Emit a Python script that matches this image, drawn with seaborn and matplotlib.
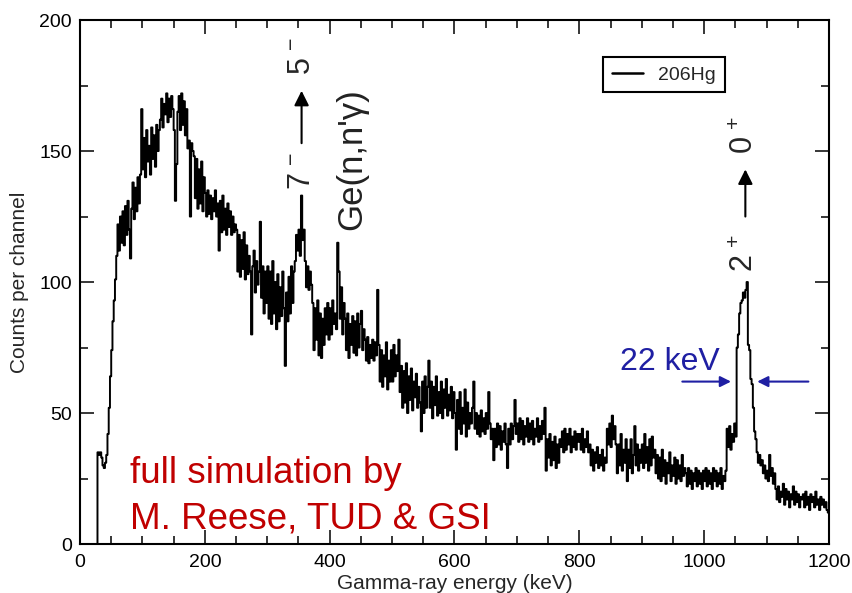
import numpy as np
import pandas as pd
import matplotlib
matplotlib.use("Agg")
import matplotlib.pyplot as plt
from matplotlib.ticker import MultipleLocator
import seaborn as sns

# Simulated 206Hg gamma-ray spectrum, 2 keV channels from 0 to 1200 keV
bin_width = 2
counts_0_100 = [0, 0, 0, 0, 0, 0, 0, 0, 0, 0, 0, 0, 0, 0,
                35, 34, 35, 33, 30, 29, 31, 34, 42, 52, 64, 74, 85, 93, 101, 110, 122, 112,
                125, 115, 127, 114, 129, 118, 131, 120, 109, 128, 138, 124, 136, 127, 140, 130, 141, 166]
counts_100_200 = [143, 155, 140, 158, 146, 152, 141, 159, 147, 156, 144, 160, 150, 158,
                  162, 170, 159, 168, 164, 172, 161, 170, 163, 171, 166, 158, 131, 145,
                  165, 171, 158, 172, 160, 169, 156, 166, 151, 154, 125, 153, 150,
                  148, 132, 147, 128, 143, 130, 146, 127, 140]
counts_200_300 = [134, 125, 135, 126, 133, 124, 132, 127, 135, 125, 130, 112,
                  131, 119, 133, 120, 128, 118, 130, 121, 127, 118, 125, 119, 122,
                  120, 104, 118, 102, 116, 105, 119, 101, 114, 103, 110, 104, 80, 106,
                  112, 96, 108, 99, 104, 123, 94, 106, 88, 104, 92]
counts_300_400 = [106, 86, 104, 84, 108, 88, 100, 82, 103, 85, 98, 87, 104, 90, 68, 96, 85, 102, 88, 106, 92, 104,
                  108, 118, 112, 120, 110, 133, 116, 120,
                  108, 98, 106, 97, 104, 99,
                  92, 74, 90, 78, 93, 72, 88, 71, 86, 76, 90, 80, 92, 78]
counts_400_500 = [90, 80, 93, 84, 88, 82, 115, 104, 86, 98, 80, 92,
                  86, 74, 88, 71, 84, 76, 87, 73, 85, 72, 88, 75, 84, 89, 74, 82,
                  78, 70, 79, 69, 76, 71, 78, 70, 77, 72, 97,
                  76, 62, 74, 60, 72, 64, 77, 59, 70, 62, 74]
counts_500_600 = [62, 76, 64, 72, 66, 78,
                  58, 68, 52, 66, 54, 69, 50, 64, 55, 67, 51, 62, 56, 65, 52, 60, 54, 43,
                  62, 50, 64, 52, 60, 70,
                  52, 62, 48, 60, 53, 64, 49, 58, 50, 62, 48, 59, 52, 63, 49, 57, 51, 60, 48, 58]
counts_600_700 = [50, 36, 55, 44, 58, 42, 52, 46, 59, 41, 54, 44, 50, 46, 52, 62,
                  44, 50, 42, 49, 41, 51, 43, 48, 42, 50, 44, 58, 46, 40, 44, 32,
                  44, 37, 46, 38, 45, 36, 43, 39, 46, 38, 29, 44, 38, 46, 40, 45, 55, 42]
counts_700_800 = [46, 39, 48, 40, 47, 38, 45, 41, 48, 39, 46, 40, 47, 38, 44, 41, 48, 39, 45, 40, 47, 42, 52,
                  28, 40, 33, 42, 30, 39, 32, 41, 29, 38, 31, 40,
                  37, 43, 35, 44, 36, 42, 38, 44, 35, 41, 37, 43, 36, 42, 39]
counts_800_900 = [42, 36, 44, 35, 40, 37, 43, 35, 38,
                  30, 36, 28, 35, 31, 37, 29, 34, 30, 36, 28, 33, 31,
                  44, 38, 46, 37, 49, 40, 45, 38, 27,
                  38, 30, 42, 28, 36, 31, 40, 24, 36, 29, 40, 27, 34, 45, 30, 38, 28, 36, 31]
counts_900_1000 = [38, 29, 42, 31, 37, 28, 40, 30, 41, 33, 36,
                   27, 34, 25, 33, 24, 36, 26, 32, 23, 31, 27, 35, 24, 30, 26, 33, 23, 32, 25, 30, 24, 34, 26, 29,
                   27, 22, 29, 23, 28, 21, 27, 24, 29, 22, 28, 23, 27, 21, 28]
counts_1000_1100 = [24, 29, 22, 28, 23, 27, 21, 29, 24, 28, 22, 27, 23, 29, 21, 26, 24, 28,
                    44, 37, 45, 36, 42, 39, 46, 41,
                    75, 80, 88, 92, 93, 96, 94, 97, 100, 76, 74, 63, 61, 52, 43, 40,
                    35, 31, 34, 30, 32, 27, 30, 25]
counts_1100_1200 = [28, 24, 34, 26, 29, 23, 27,
                    21, 17, 22, 16, 20, 18, 23, 15, 21, 17, 20, 14, 19, 17, 22, 15, 20, 16, 19, 14, 18,
                    17, 19, 14, 20, 15, 18, 13, 19, 16, 18, 14, 20, 15, 17, 13, 18, 15, 17, 14, 16, 13, 12]

counts = (counts_0_100 + counts_100_200 + counts_200_300 + counts_300_400
          + counts_400_500 + counts_500_600 + counts_600_700 + counts_700_800
          + counts_800_900 + counts_900_1000 + counts_1000_1100 + counts_1100_1200)
edges = np.arange(0, 1200 + bin_width, bin_width)
spectrum = pd.DataFrame({"energy": edges[:-1] + bin_width / 2, "counts": counts})

# Transition labels (peak energies in keV)
line_7_5 = 355
line_ge = 436
line_2_0 = 1066
fwhm_left, fwhm_right = 1043, 1085

sns.set_style("ticks")
plt.rcParams["font.family"] = ["Liberation Sans", "DejaVu Sans"]
plt.rcParams["mathtext.fontset"] = "custom"
plt.rcParams["mathtext.rm"] = "Liberation Sans"
plt.rcParams["mathtext.default"] = "rm"

fig = plt.figure(figsize=(8.52, 5.93), dpi=100)
ax = fig.add_axes([0.0939, 0.0826, 0.8791, 0.8836])

sns.histplot(data=spectrum, x="energy", weights="counts", bins=list(edges),
             element="step", fill=False, color="black", linewidth=1.4,
             label="206Hg", ax=ax)

ax.set_xlim(0, 1200)
ax.set_ylim(0, 200)
ax.set_xticks(range(0, 1201, 200))
ax.set_yticks(range(0, 201, 50))
ax.xaxis.set_minor_locator(MultipleLocator(50))
ax.yaxis.set_minor_locator(MultipleLocator(25))
ax.tick_params(which="both", direction="in", top=True, right=True, width=1.1, colors="black")
ax.tick_params(which="major", length=10)
ax.tick_params(which="minor", length=5.5)
ax.tick_params(axis="x", pad=7, labelsize=14)
ax.tick_params(axis="y", pad=6, labelsize=14)
for s in ax.spines.values():
    s.set_linewidth(1.5)
    s.set_color("black")

ax.set_xlabel("Gamma-ray energy (keV)", fontsize=15, labelpad=2)
ax.set_ylabel("Counts per channel", fontsize=15, labelpad=7)

leg = ax.legend(loc="upper left", bbox_to_anchor=(0.698, 0.929), frameon=True,
                fancybox=False, edgecolor="black", framealpha=1, fontsize=14,
                handlelength=1.6, borderpad=0.45, handletextpad=0.8,
                borderaxespad=0)
leg.get_frame().set_linewidth(1.5)
for h in leg.get_lines():
    h.set_linewidth(1.8)

# Level transitions, written vertically with an upward arrow
def transition(x, lower, upper, y0, y1, y2, y3):
    ax.text(x, y0, lower, rotation=90, ha="center", va="bottom", fontsize=22)
    ax.annotate("", xy=(x, y2), xytext=(x, y1),
                arrowprops=dict(arrowstyle="-|>", color="black", lw=1.5,
                                mutation_scale=22, shrinkA=0, shrinkB=0))
    ax.text(x, y3, upper, rotation=90, ha="center", va="bottom", fontsize=22)

transition(line_7_5, r"7$^{\,-}$", r"5$^{\,-}$", 135, 153, 173, 179)
transition(line_2_0, r"2$^{\,+}$", r"0$^{\,+}$", 104, 125, 143, 149)

ax.text(line_ge, 120, "Ge(n,n'γ)", rotation=90, ha="center", va="bottom",
        fontsize=25, color="#222222")

# FWHM of the 2+ -> 0+ line
blue = "#1f1fa3"
ax.text(865, 66.4, "22 keV", color=blue, fontsize=23, ha="left", va="baseline")
ax.annotate("", xy=(fwhm_left, 62), xytext=(965, 62),
            arrowprops=dict(arrowstyle="-|>", color=blue, lw=1.5, mutation_scale=16,
                            shrinkA=0, shrinkB=0))
ax.annotate("", xy=(fwhm_right, 62), xytext=(1167, 62),
            arrowprops=dict(arrowstyle="-|>", color=blue, lw=1.5, mutation_scale=16,
                            shrinkA=0, shrinkB=0))

red = "#c00000"
ax.text(80, 23.3, "full simulation by", color=red, fontsize=26.5, ha="left", va="baseline")
ax.text(80, 6.1, "M. Reese, TUD & GSI", color=red, fontsize=26.5, ha="left", va="baseline")

fig.savefig("out.png", dpi=100)
